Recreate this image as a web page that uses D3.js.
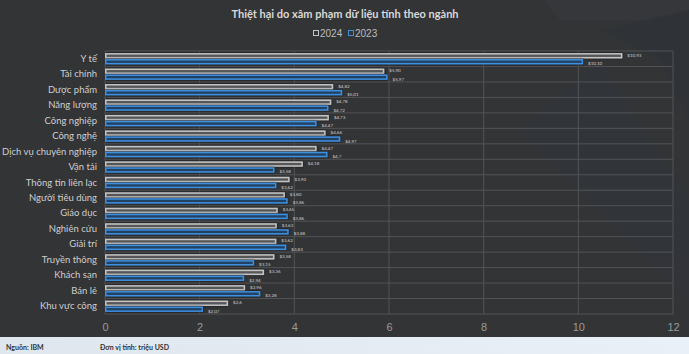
<!DOCTYPE html>
<html>
<head>
<meta charset="utf-8">
<script src="https://cdn.jsdelivr.net/npm/d3@7"></script>
<style>
  html, body { margin: 0; padding: 0; background: #333436; }
  svg { display: block; }
</style>
</head>
<body>
<div id="chart"></div>
<script>
// categories, top to bottom
const categories = ["Y tế", "Tài chính", "Dược phẩm", "Năng lượng", "Công nghiệp", "Công nghệ",
  "Dịch vụ chuyên nghiệp", "Vận tải", "Thông tin liên lạc", "Người tiêu dùng", "Giáo dục",
  "Nghiên cứu", "Giải trí", "Truyền thông", "Khách sạn", "Bán lẻ", "Khu vực công"];
const values2024 = [10.93, 5.90, 4.82, 4.78, 4.73, 4.66, 4.47, 4.18, 3.90, 3.80, 3.65, 3.63, 3.62, 3.58, 3.36, 2.96, 2.6];
const values2023 = [10.10, 5.97, 5.01, 4.72, 4.47, 4.97, 4.7, 3.58, 3.62, 3.86, 3.86, 3.88, 3.83, 3.15, 2.94, 3.28, 2.07];
// labels as printed in the picture
const labels2024 = ["$10,93", "$5,90", "$4,82", "$4,78", "$4,73", "$4,66", "$4,47", "$4,18", "$3,90", "$3,80", "$3,65", "$3,63", "$3,62", "$3,58", "$3,36", "$2,96", "$2,6"];
const labels2023 = ["$10,10", "$5,97", "$5,01", "$4,72", "$4,47", "$4,97", "$4,7", "$3,58", "$3,62", "$3,86", "$3,86", "$3,88", "$3,83", "$3,15", "$2,94", "$3,28", "$2,07"];
const seriesNames = ["2024", "2023"];
const xTicks = [0, 2, 4, 6, 8, 10, 12];

const width = 689, height = 354;
const margin = { top: 51, right: 16, bottom: 40, left: 105 };

const svg = d3.select("#chart").append("svg")
  .attr("width", width)
  .attr("height", height);

// background
svg.append("rect").attr("width", width).attr("height", height).attr("fill", "#333436");
// faint decorative shapes in the upper right
const deco = svg.append("g").attr("opacity", 0.35);
deco.append("path").attr("d", "M545,0 L689,0 L689,60 L640,20 L560,20 Z").attr("fill", "#3c3f43");
deco.append("path").attr("d", "M600,30 L689,10 L689,120 L660,60 Z").attr("fill", "#2a3038");
deco.append("path").attr("d", "M520,130 L600,60 L689,200 L689,300 Z").attr("fill", "#303742");

// footer strip
const grad = svg.append("defs").append("linearGradient").attr("id", "foot")
  .attr("x1", 0).attr("x2", 1).attr("y1", 0).attr("y2", 0);
grad.append("stop").attr("offset", "0%").attr("stop-color", "#dfe6ee");
grad.append("stop").attr("offset", "100%").attr("stop-color", "#eaf0f8");
svg.append("rect").attr("x", 0).attr("y", 337).attr("width", width).attr("height", 17).attr("fill", "url(#foot)");
svg.append("text").attr("x", 6).attr("y", 350).text("Nguồn: IBM")
  .attr("font-family", "Lato, sans-serif").attr("font-size", 7).attr("font-weight", "bold").attr("fill", "#333");
svg.append("text").attr("x", 100).attr("y", 350).text("Đơn vị tính: triệu USD")
  .attr("font-family", "Lato, sans-serif").attr("font-size", 7).attr("font-weight", "bold").attr("fill", "#333");

// title
svg.append("text")
  .attr("x", 345).attr("y", 18)
  .attr("text-anchor", "middle")
  .attr("font-family", "Lato, sans-serif")
  .attr("font-weight", "bold")
  .attr("font-size", 11)
  .attr("fill", "#d9d9d9")
  .text("Thiệt hại do xâm phạm dữ liệu tính theo ngành");

// scales
const x = d3.scaleLinear().domain([0, 12]).range([margin.left, width - margin.right]);
const y = d3.scaleBand().domain(categories).range([margin.top, height - margin.bottom]).padding(0);
const ySub = d3.scaleBand().domain(seriesNames).range([0, y.bandwidth()]).paddingInner(0.1).paddingOuter(0.35);

const colors = {
  "2024": { stroke: "#c4c4c4", fill: "#555658" },
  "2023": { stroke: "#3d8fe0", fill: "#24405e" }
};

// legend
const legend = svg.append("g").attr("font-family", "Liberation Sans, Arial, sans-serif").attr("font-size", 10);
const legendX = [313, 348];
seriesNames.forEach((s, i) => {
  legend.append("rect").attr("x", legendX[i] + 0.5).attr("y", 30.5).attr("width", 5).attr("height", 5)
    .attr("fill", "none").attr("stroke", colors[s].stroke).attr("stroke-width", 1);
  legend.append("text").attr("x", legendX[i] + 7).attr("y", 37).attr("fill", "#bdbdbd").text(s);
});

// grid
const grid = svg.append("g");
grid.selectAll("line.v").data(xTicks).join("line")
  .attr("class", "v")
  .attr("x1", d => x(d)).attr("x2", d => x(d))
  .attr("y1", margin.top).attr("y2", height - margin.bottom)
  .attr("stroke", "#525356").attr("stroke-width", 1);
grid.selectAll("line.h").data(d3.range(categories.length + 1)).join("line")
  .attr("class", "h")
  .attr("x1", margin.left).attr("x2", width - margin.right)
  .attr("y1", i => margin.top + i * y.step()).attr("y2", i => margin.top + i * y.step())
  .attr("stroke", "#525356").attr("stroke-width", 1);

// x axis
const xAxis = svg.append("g")
  .attr("transform", `translate(0, ${height - margin.bottom})`)
  .call(d3.axisBottom(x).tickValues(xTicks).tickSize(0).tickPadding(9));
xAxis.select(".domain").remove();
xAxis.selectAll("text")
  .attr("font-family", "Liberation Sans, Arial, sans-serif")
  .attr("font-size", 11)
  .attr("fill", "#9a9a9a");

// y axis
const yAxis = svg.append("g")
  .attr("transform", `translate(${margin.left}, 0)`)
  .call(d3.axisLeft(y).tickSize(0).tickPadding(8));
yAxis.select(".domain").remove();
yAxis.selectAll("text")
  .attr("font-family", "Lato, sans-serif")
  .attr("font-size", 9.5)
  .attr("fill", "#cfcfcf");

// glow filter
const filt = svg.select("defs").append("filter").attr("id", "glow")
  .attr("x", "-5%").attr("y", "-80%").attr("width", "110%").attr("height", "260%");
filt.append("feDropShadow").attr("dx", 0).attr("dy", 0).attr("stdDeviation", 1.2)
  .attr("flood-color", "#000").attr("flood-opacity", 0.7);

const rows = categories.map((c, i) => ({
  cat: c,
  series: [
    { s: "2024", v: values2024[i], label: labels2024[i] },
    { s: "2023", v: values2023[i], label: labels2023[i] }
  ]
}));

const rowG = svg.append("g").selectAll("g").data(rows).join("g")
  .attr("transform", d => `translate(0, ${y(d.cat)})`);

rowG.selectAll("rect").data(d => d.series).join("rect")
  .attr("x", x(0) + 0.75)
  .attr("y", d => ySub(d.s) + 0.75)
  .attr("width", d => x(d.v) - x(0) - 1.5)
  .attr("height", ySub.bandwidth() - 1.5)
  .attr("fill", d => colors[d.s].fill)
  .attr("stroke", d => colors[d.s].stroke)
  .attr("stroke-width", 1.5)
  .attr("filter", "url(#glow)");

rowG.selectAll("text").data(d => d.series).join("text")
  .attr("x", d => x(d.v) + 5)
  .attr("y", d => ySub(d.s) + ySub.bandwidth() / 2 + (d.s === "2024" ? 1 : 3.5))
  .attr("font-family", "Lato, sans-serif")
  .attr("font-size", 4.5)
  .attr("fill", "#cfcfcf")
  .text(d => d.label);
</script>
</body>
</html>
